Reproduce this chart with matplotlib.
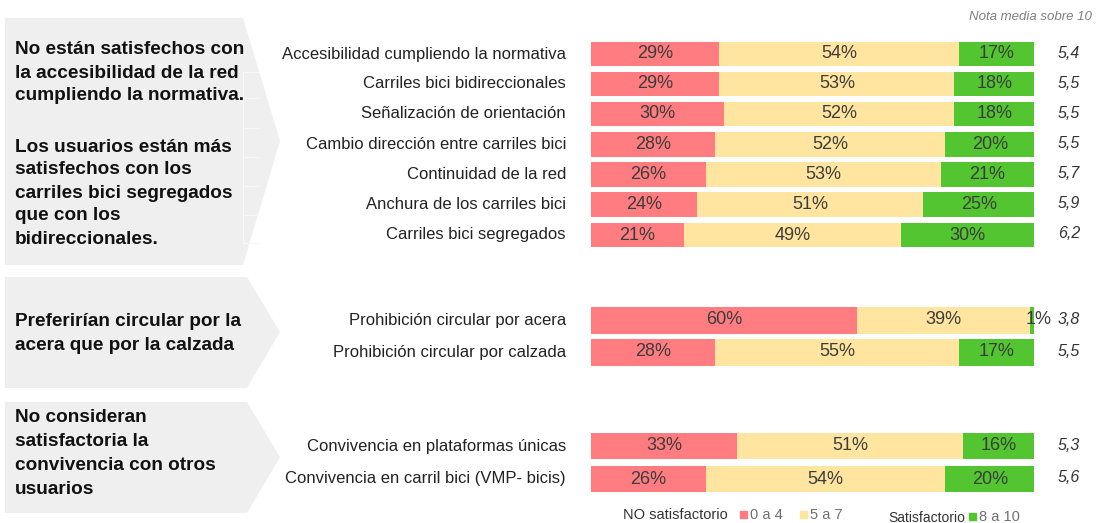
import matplotlib.pyplot as plt
from matplotlib.patches import Polygon

plt.rcParams['font.family'] = ['Liberation Sans', 'DejaVu Sans']

# datos
categorias = ['Accesibilidad cumpliendo la normativa',
              'Carriles bici bidireccionales',
              'Señalización de orientación',
              'Cambio dirección entre carriles bici',
              'Continuidad de la red',
              'Anchura de los carriles bici',
              'Carriles bici segregados',
              'Prohibición circular por acera',
              'Prohibición circular por calzada',
              'Convivencia en plataformas únicas',
              'Convivencia en carril bici (VMP- bicis)']
nada_0a4 = [29, 29, 30, 28, 26, 24, 21, 60, 28, 33, 26]
medio_5a7 = [54, 53, 52, 52, 53, 51, 49, 39, 55, 51, 54]
bien_8a10 = [17, 18, 18, 20, 21, 25, 30, 1, 17, 16, 20]
nota_media = ['5,4', '5,5', '5,5', '5,5', '5,7', '5,9', '6,2', '3,8', '5,5', '5,3', '5,6']

mensajes = [
    ['No están satisfechos con', 'la accesibilidad de la red', 'cumpliendo la normativa.', '',
     'Los usuarios están más', 'satisfechos con los', 'carriles bici segregados',
     'que con los', 'bidireccionales.'],
    ['Preferirían circular por la', 'acera que por la calzada'],
    ['No consideran', 'satisfactoria la', 'convivencia con otros', 'usuarios'],
]

# posiciones (pixeles) de cada fila
fila_y = [54, 84, 114, 144.5, 174.5, 204.5, 235, 320, 352, 446, 479]
fila_h = [24.5] * 7 + [27, 27, 26, 26]

rojo = '#FF7C80'
amarillo = '#FFE59F'
verde = '#52C530'
gris_txt = '#3C3C3C'

fig = plt.figure(figsize=(11.04, 5.23), dpi=100)
bg = fig.add_axes([0, 0, 1, 1])
bg.set_xlim(0, 1104)
bg.set_ylim(523, 0)
bg.axis('off')

# flechas grises de la izquierda
paneles = [(18, 265, 243, 141), (277, 388, 247, 332), (402, 513, 247, 457)]
for top, bot, xr, ymid in paneles:
    bg.add_patch(Polygon([(5, top), (xr, top), (280, ymid), (xr, bot), (5, bot)],
                         closed=True, fc='#EFEFEF', ec='none', zorder=0))
# lineas tenues dentro del primer panel
for yl in [72, 98, 128, 157, 186, 215, 243]:
    bg.plot([243, 258], [yl, yl], c='#F7F7F7', lw=0.8, zorder=1)
bg.plot([243, 243], [72, 243], c='#F7F7F7', lw=0.8, zorder=1)

# textos de los paneles
ys_panel = [[50, 73, 96, None, 147, 170, 193, 216, 239],
            [322, 346],
            [417, 441, 465, 489]]
for lineas, ys in zip(mensajes, ys_panel):
    for t, yy in zip(lineas, ys):
        if yy is None:
            continue
        bg.text(15, yy, t, fontsize=13.7, fontweight='bold', color='#111111',
                va='center', ha='left')

# etiquetas de categorias y nota media
for cat, yy, nm in zip(categorias, fila_y, nota_media):
    bg.text(566, yy, cat, fontsize=12, color='#222222', va='center', ha='right')
    bg.text(1069, yy - 1, nm, fontsize=11.5, style='italic', color='#333333',
            va='center', ha='center')

bg.text(1092, 17, 'Nota media sobre 10', fontsize=9.5, style='italic',
        color='#808080', va='center', ha='right')

# leyenda
bg.text(623, 515, 'NO satisfactorio', fontsize=10.5, color='#333333', va='center', ha='left')
bg.add_patch(plt.Rectangle((740, 511), 7, 7, color=rojo))
bg.text(750, 515, '0 a 4', fontsize=10.5, color='#707070', va='center', ha='left')
bg.add_patch(plt.Rectangle((800, 511), 7, 7, color=amarillo))
bg.text(810, 515, '5 a 7', fontsize=10.5, color='#707070', va='center', ha='left')
bg.text(888, 518, 'Satisfactorio', fontsize=10, color='#333333', va='center', ha='left')
bg.add_patch(plt.Rectangle((969, 513), 7, 7, color=verde))
bg.text(979, 517, '8 a 10', fontsize=10.5, color='#707070', va='center', ha='left')

# barras apiladas
ax = fig.add_axes([591 / 1104, 0, 443 / 1104, 1])
ax.set_xlim(0, 100)
ax.set_ylim(523, 0)
ax.axis('off')
ax.patch.set_alpha(0)

izq_amarillo = [a for a in nada_0a4]
izq_verde = [a + b for a, b in zip(nada_0a4, medio_5a7)]
ax.barh(fila_y, nada_0a4, height=fila_h, color=rojo)
ax.barh(fila_y, medio_5a7, left=izq_amarillo, height=fila_h, color=amarillo)
ax.barh(fila_y, bien_8a10, left=izq_verde, height=fila_h, color=verde)

for yy, r, a, v in zip(fila_y, nada_0a4, medio_5a7, bien_8a10):
    ax.text(r / 2, yy, f'{r}%', fontsize=13, color=gris_txt, va='center', ha='center')
    ax.text(r + a / 2, yy, f'{a}%', fontsize=13, color=gris_txt, va='center', ha='center')
    xv = r + a + v / 2
    if v < 3:
        xv = 101
    ax.text(xv, yy, f'{v}%', fontsize=13, color=gris_txt, va='center', ha='center')

fig.savefig('out.png', dpi=100)
